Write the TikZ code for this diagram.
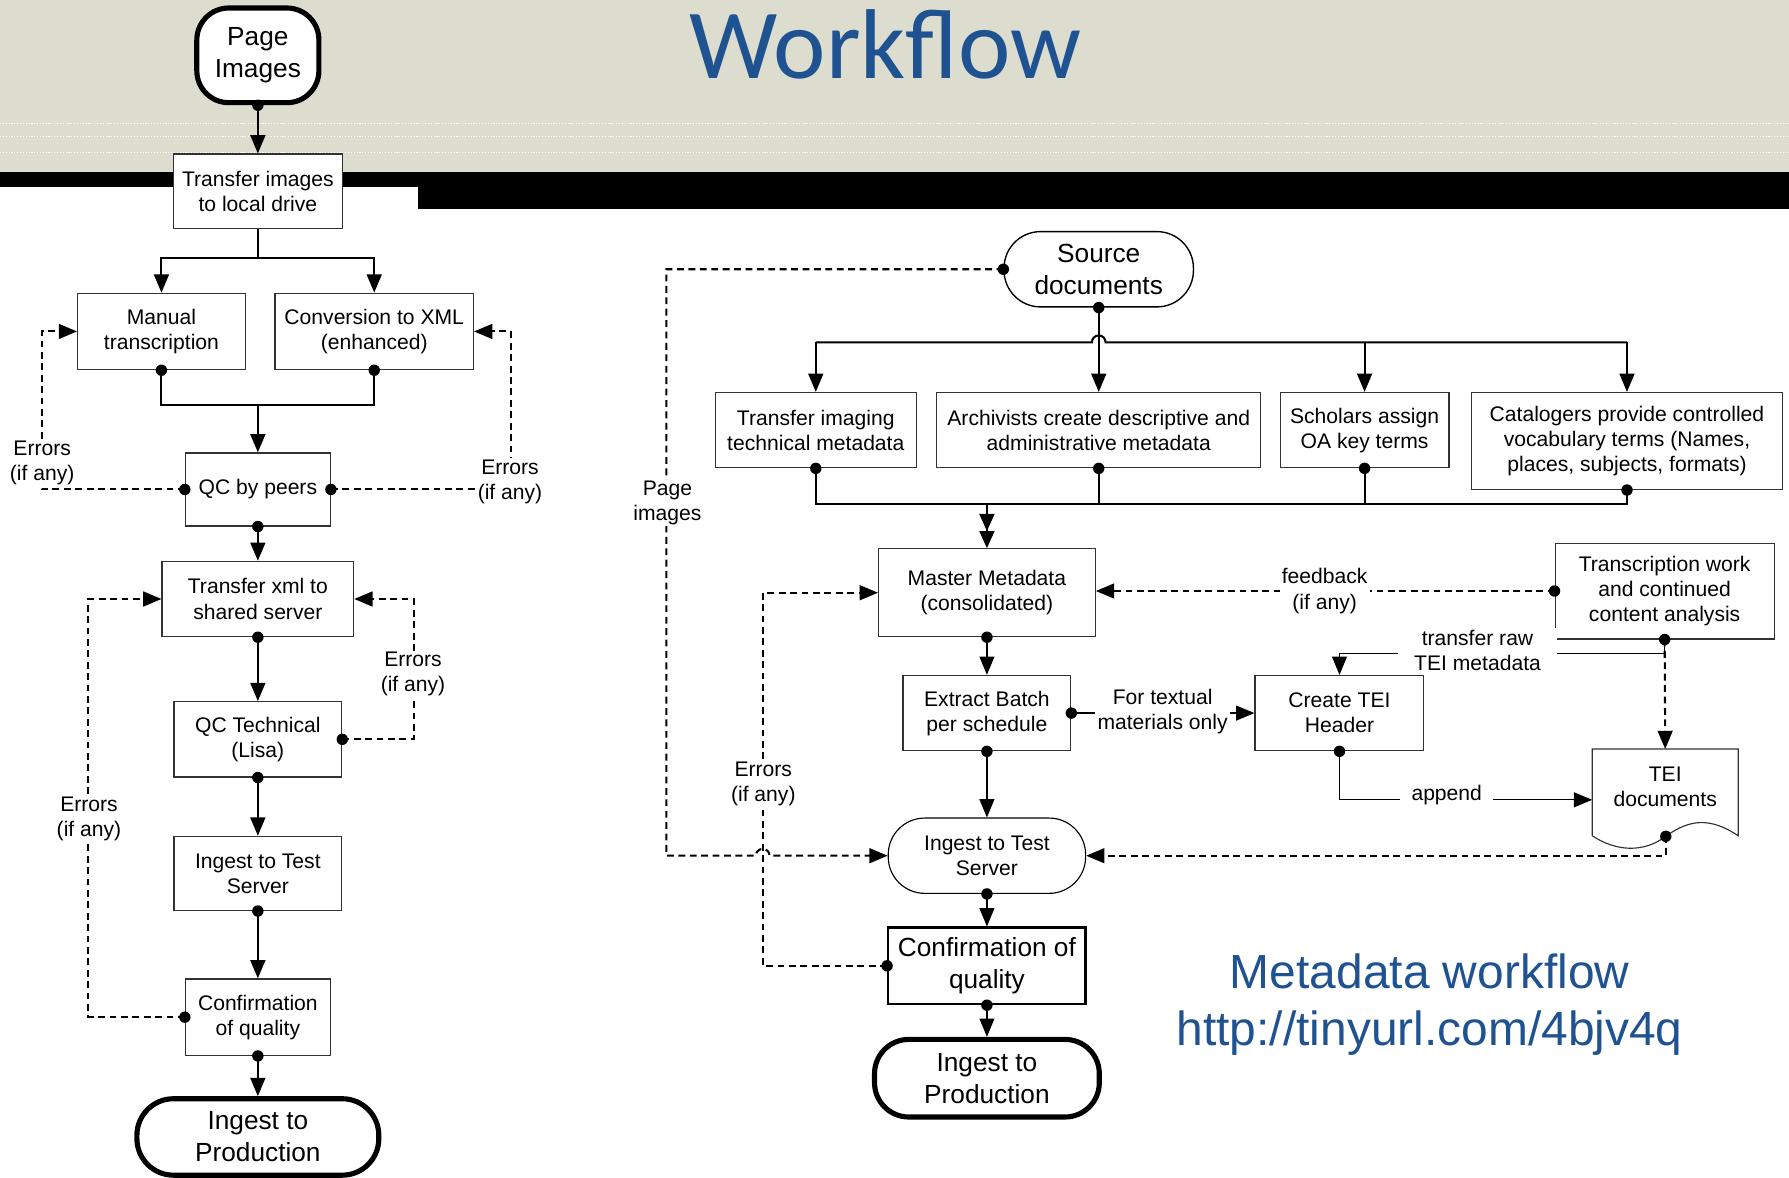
\documentclass[tikz,border=0pt]{standalone}
\usepackage{fontspec}
\setmainfont{Liberation Sans}
\newfontfamily\titlefont{Carlito}
\usetikzlibrary{arrows.meta,positioning}
\definecolor{bandgrey}{RGB}{220,220,207}
\definecolor{titleblue}{RGB}{31,82,145}
\definecolor{edgegrey}{RGB}{50,50,50}
\tikzset{
  box/.style={draw=edgegrey, line width=1pt, fill=white, align=center, inner sep=0pt, font=\fontsize{18.5}{22}\selectfont},
  bigbox/.style={box, draw=black, font=\fontsize{23}{28}\selectfont},
  term/.style={bigbox, line width=4.5pt, rounded corners=30pt},
  note/.style={fill=white, align=center, inner xsep=2pt, inner ysep=1pt, font=\fontsize{18.5}{22}\selectfont}
}
\begin{document}
\begin{tikzpicture}[x=1pt,y=-1pt,
    conn/.style={line width=1.8pt},
    flow/.style={conn, -{Triangle[length=16pt,width=13pt]}},
    thinflow/.style={line width=1.1pt, -{Triangle[length=16pt,width=13pt]}},
    back/.style={line width=1.8pt, dash pattern=on 6pt off 4pt, -{Triangle[length=16pt,width=13pt]}}]
  \useasboundingbox (0,0) rectangle (1568,1032);
  \fill[bandgrey] (0,0) rectangle (1568,151);
  \foreach \y in {108,120,134}
    \draw[white, line width=1pt, dash pattern=on 1pt off 1.5pt] (0,\y) -- (1568,\y);
  \fill (0,151) rectangle (1568,164);
  \fill (366,164) rectangle (1568,183);
  \node[font=\titlefont\fontsize{87}{92}\selectfont, text=titleblue, anchor=base, name=title] at (776,69) {Workflow};

  \node[term, minimum width=107pt, minimum height=83pt, rounded corners=28pt, name=pimg] at (226,48.5) {Page\\Images};
  \node[box, minimum width=148pt, minimum height=65pt, name=tlocal] at (226,167.5) {Transfer images\\to local drive};
  \node[box, minimum width=147pt, minimum height=67pt, name=manual] at (141.5,290.5) {Manual\\transcription};
  \node[box, minimum width=174pt, minimum height=67pt, name=convxml] at (328,290.5) {Conversion to XML\\(enhanced)};
  \node[box, minimum width=127pt, minimum height=64pt, name=qcpeers] at (226,429) {QC by peers};
  \node[box, minimum width=168pt, minimum height=66pt, name=txml] at (226,525) {Transfer xml to\\shared server};
  \node[box, minimum width=147pt, minimum height=66pt, name=qctech] at (226,648) {QC Technical\\(Lisa)};
  \node[box, minimum width=147pt, minimum height=65pt, name=itest] at (226,765.5) {Ingest to Test\\Server};
  \node[box, minimum width=127pt, minimum height=67pt, name=confirm] at (226,891.5) {Confirmation\\of quality};
  \node[term, minimum width=212pt, minimum height=67pt, rounded corners=32pt, name=iprod] at (226,996.5) {Ingest to\\Production};

  \node[bigbox, line width=1.2pt, rounded corners=32pt, minimum width=166pt, minimum height=66pt, name=srcdoc] at (963,236) {Source\\documents};
  \node[box, minimum width=176pt, minimum height=66pt, name=timg] at (715,377) {Transfer imaging\\technical metadata};
  \node[box, minimum width=284pt, minimum height=66pt, name=archiv] at (963,377) {Archivists create descriptive and\\administrative metadata};
  \node[box, minimum width=148pt, minimum height=66pt, name=scholar] at (1196,377) {Scholars assign\\OA key terms};
  \node[box, minimum width=272pt, minimum height=85pt, name=catalog] at (1426,386.5) {Catalogers provide controlled\\vocabulary terms (Names,\\places, subjects, formats)};
  \node[box, minimum width=190pt, minimum height=77pt, name=master] at (865,519.5) {Master Metadata\\(consolidated)};
  \node[box, minimum width=147pt, minimum height=66pt, name=extract] at (865,625) {Extract Batch\\per schedule};
  \node[box, minimum width=148pt, minimum height=66pt, name=teihead] at (1174,625) {Create TEI\\Header};
  \node[box, minimum width=192pt, minimum height=84pt, name=transcr] at (1459,518) {Transcription work\\and continued\\content analysis};
  \node[box, draw=none, fill=none, minimum width=127pt, minimum height=66pt, name=teidoc] at (1459.5,690) {TEI\\documents};
  \node[box, draw=black, rounded corners=32pt, minimum width=173pt, minimum height=66pt, name=itest2] at (865,750) {Ingest to Test\\Server};
  \node[bigbox, line width=2pt, minimum width=173pt, minimum height=67pt, name=confirm2] at (865,846.5) {Confirmation of\\quality};
  \node[term, minimum width=197pt, minimum height=68pt, name=iprod2] at (865,945) {Ingest to\\Production};
  \node[font=\fontsize{42}{50}\selectfont, text=titleblue, anchor=base, name=mwtitle] at (1253,866) {Metadata workflow};
  \node[font=\fontsize{42}{50}\selectfont, text=titleblue, anchor=base, name=mwlink] at (1253,916) {http://tinyurl.com/4bjv4q};

  \draw[draw=edgegrey, line width=1pt] (teidoc.north west) -- (teidoc.north east) -- ([yshift=-9pt]teidoc.south east)
    .. controls (1500,717) and (1482,717) .. (1460,733) .. controls (1440,748) and (1416,746) .. ([yshift=-9pt]teidoc.south west) -- cycle;
  \coordinate (teiwave) at (1460,733);

  \draw[flow] (pimg.south) -- (tlocal.north);
  \draw[conn] (tlocal.south) -- ++(0,26) coordinate (fork1);
  \draw[flow] (fork1) -| (manual.north);
  \draw[flow] (fork1) -| (convxml.north);
  \coordinate (join1) at (226,355);
  \draw[conn] (manual.south) |- (join1) -| (convxml.south);
  \draw[flow] (join1) -- (qcpeers.north);
  \draw[back] (qcpeers.west) -| ([xshift=-31pt]manual.west) -- (manual.west);
  \node[note] at (37,406) {Errors\\(if any)};
  \draw[back] (qcpeers.east) -| ([xshift=32pt]convxml.east) -- (convxml.east);
  \node[note] at (447,422) {Errors\\(if any)};
  \draw[flow] (qcpeers.south) -- (txml.north);
  \draw[flow] (txml.south) -- (qctech.north);
  \draw[back] (qctech.east) -| ([xshift=52pt]txml.east) -- (txml.east);
  \node[note] at (362,591) {Errors\\(if any)};
  \draw[flow] (qctech.south) -- (itest.north);
  \draw[flow] (itest.south) -- (confirm.north);
  \draw[back] (confirm.west) -| ([xshift=-64pt]txml.west) -- (txml.west);
  \node[note] at (78,718) {Errors\\(if any)};
  \draw[flow] (confirm.south) -- (iprod.north);

  \coordinate (split) at (963,300);
  \draw[conn] (timg.north |- split) -- ([xshift=-6pt]split) arc (180:0:6pt) -- (catalog.north |- split);
  \draw[flow] (timg.north |- split) -- (timg.north);
  \draw[flow] (scholar.north |- split) -- (scholar.north);
  \draw[flow] (catalog.north |- split) -- (catalog.north);
  \draw[flow] (srcdoc.south) -- (archiv.north);
  \coordinate (join2) at (865,442);
  \draw[conn] (timg.south) |- (catalog.south |- join2) -- (catalog.south);
  \draw[conn] (archiv.south) -- (archiv.south |- join2);
  \draw[conn] (scholar.south) -- (scholar.south |- join2);
  \draw[conn, -{Triangle[length=15pt,width=13pt]Triangle[length=15pt,width=13pt]}] (join2) -- (master.north);
  \draw[thinflow] (master.south) -- (extract.north);
  \draw[thinflow] (extract.east) -- (teihead.west);
  \node[note] at (1019,624) {For textual\\materials only};
  \draw[thinflow] (teihead.south) |- ([yshift=-11pt]teidoc.west);
  \node[note, inner xsep=10pt] at (1268,697) {append};
  \draw[thinflow] (extract.south) -- (itest2.north);
  \draw[thinflow] (itest2.south) -- (confirm2.north);
  \draw[thinflow] (confirm2.south) -- (iprod2.north);
  \draw[back] (transcr.west) -- (master.east |- transcr.west);
  \node[note] at (1161,518) {feedback\\(if any)};
  \draw[thinflow] (transcr.south) -- ++(0,12) -| (teihead.north);
  \node[note, minimum width=140pt, inner ysep=2pt] at (1295,570) {transfer raw\\TEI metadata};
  \draw[back] (transcr.south) -- (teidoc.north);
  \draw[back] (teiwave) |- (itest2.east);
  \coordinate (errx) at ([xshift=-101pt]master.west);
  \coordinate (hop2) at (errx |- itest2.west);
  \draw[back] (confirm2.west) -| (errx) -- (master.west);
  \node[note] at (669,687) {Errors\\(if any)};
  \draw[back] (srcdoc.west) -| ([xshift=-194pt]itest2.west) -- ([xshift=-6pt]hop2) arc (180:0:6pt) -- (itest2.west);
  \node[note] at (585,441) {Page\\images};

  \foreach \p in {pimg.south, manual.south, convxml.south, qcpeers.west, qcpeers.east, qcpeers.south,
      txml.south, qctech.east, qctech.south, itest.south, confirm.west, confirm.south,
      srcdoc.west, srcdoc.south, timg.south, archiv.south, scholar.south, catalog.south,
      master.south, extract.east, extract.south, teihead.south, transcr.west, transcr.south,
      teiwave, itest2.south, confirm2.west, confirm2.south}
    \fill (\p) circle (5pt);
\end{tikzpicture}
\end{document}
